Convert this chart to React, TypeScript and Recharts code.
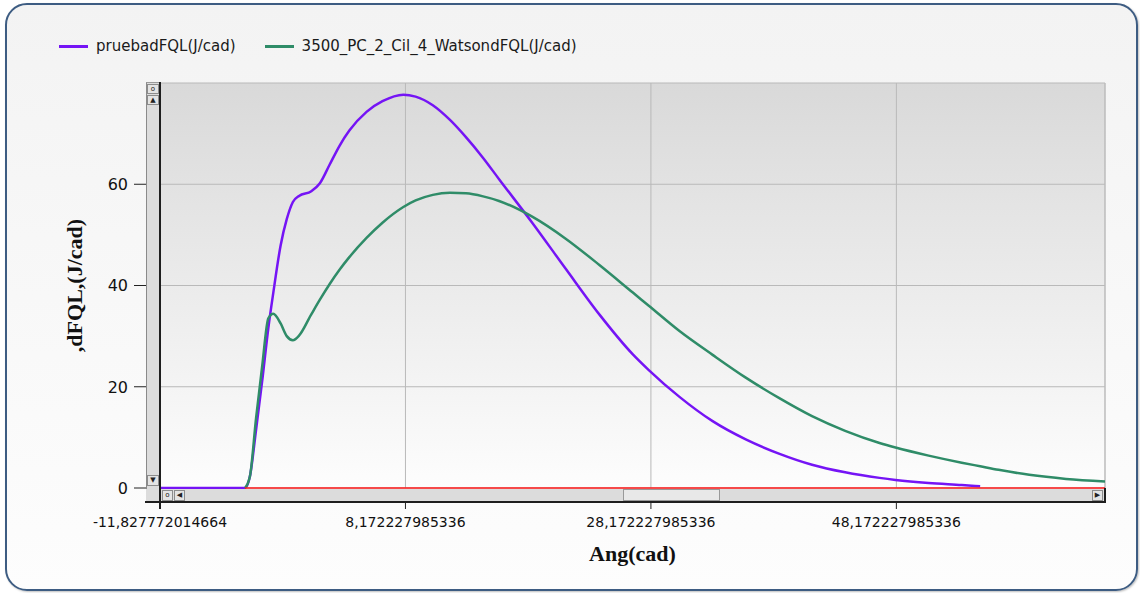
import { LineChart, Line, XAxis, YAxis, CartesianGrid, Legend, ReferenceLine, Label } from 'recharts';

// angulo (cad) compartido por las curvas
const angles = [
  -11.827772014664, -4.9, -4.5, -4.0, -3.5, -3.0, -2.6, -2.0, -1.5, -1.0, -0.5, 0.5, 1.2, 2.0,
  2.8, 3.6, 5.0, 6.3, 8.0, 9.0, 10.4, 11.8, 13.1, 14.5, 15.8, 18.5, 21.2, 24.0, 26.7, 28.0,
  30.5, 33.2, 35.9, 38.6, 41.3, 44.0, 46.8, 48.1, 50.8, 53.5, 55.0, 56.5, 59.0, 62.0,
  65.172227985336,
];

const prueba = [
  0, 0, 2.3, 11.5, 21.2, 31.6, 38.5, 47.9, 53.1, 56.5, 57.7, 58.6, 60.2, 63.9,
  67.6, 70.6, 74.3, 76.4, 77.7, 77.3, 75.6, 72.7, 69.3, 65.2, 61.0, 52.4, 43.4, 34.2, 26.4, 23.3,
  18.0, 13.2, 9.6, 6.8, 4.6, 3.1, 2.0, 1.6, 1.0, 0.6, 0.35, null, null, null,
  null,
];

const watson = [
  null, 0, 2.3, 13.8, 24.1, 33.5, 34.4, 32.5, 30.0, 29.2, 30.1, 34.3, 37.2, 40.3,
  43.1, 45.6, 49.4, 52.4, 55.5, 56.8, 57.9, 58.3, 58.2, 57.6, 56.7, 53.6, 49.3, 44.0, 38.6, 36.0,
  31.0, 26.3, 21.8, 17.8, 14.2, 11.3, 8.9, 8.0, 6.4, 5.0, 4.3, 3.6, 2.6, 1.8,
  1.3,
];

const cero = [
  null, 0, 0, 0, 0, 0, 0, 0, 0, 0, 0, 0, 0, 0,
  0, 0, 0, 0, 0, 0, 0, 0, 0, 0, 0, 0, 0, 0, 0, 0,
  0, 0, 0, 0, 0, 0, 0, 0, 0, 0, 0, 0, 0, 0,
  0,
];

const series = [
  { key: 'prueba', name: 'pruebadFQL(J/cad)', color: '#7514f5' },
  { key: 'watson', name: '3500_PC_2_Cil_4_WatsondFQL(J/cad)', color: '#2f8c68' },
];

const xTicks = [-11.827772014664, 8.172227985336, 28.172227985336, 48.172227985336];
const yTicks = [0, 20, 40, 60, 80];
const X_MIN = -11.827772014664;
const X_MAX = 65.172227985336;

const data = angles.map((a, i) => ({ ang: a, prueba: prueba[i], watson: watson[i], cero: cero[i] }));

const fmtX = (v: number) => v.toFixed(12).replace('.', ',');

function XTick({ x, y, payload }: any) {
  return (
    <g>
      <line x1={x} x2={x} y1={y + 14} y2={y + 21} stroke="#222" />
      <text x={x} y={y + 39} textAnchor="middle" fontFamily="DejaVu Sans" fontSize={14} fill="#111">
        {fmtX(payload.value)}
      </text>
    </g>
  );
}

function YTick({ x, y, payload }: any) {
  if (payload.value === 80) return <g />;
  return (
    <g>
      <line x1={x - 26} x2={x - 13} y1={y} y2={y} stroke="#222" />
      <text x={x - 32} y={y} dy="0.36em" textAnchor="end" fontFamily="DejaVu Sans" fontSize={16} fill="#111">
        {payload.value}
      </text>
    </g>
  );
}

const renderLegend = () => (
  <div style={{ display: 'flex', alignItems: 'center', fontFamily: 'DejaVu Sans', fontSize: 15, color: '#1a1a1a', whiteSpace: 'nowrap' }}>
    {series.map((s) => (
      <div key={s.key} style={{ display: 'flex', alignItems: 'center', marginRight: 29 }}>
        <span style={{ display: 'inline-block', width: 29, height: 3, background: s.color, marginRight: 8 }} />
        <span>{s.name}</span>
      </div>
    ))}
  </div>
);

const btn: React.CSSProperties = {
  position: 'absolute',
  boxSizing: 'border-box',
  border: '1px solid #8c8c8c',
  background: '#e4e4e4',
  fontFamily: 'DejaVu Sans',
  fontSize: 7,
  lineHeight: '9px',
  textAlign: 'center',
  color: '#222',
};

export default function App() {
  return (
    <div style={{ position: 'absolute', left: 0, top: 0, width: 1140, height: 593, background: '#fff', overflow: 'hidden' }}>
      <div
        style={{
          position: 'absolute', left: 5, top: 3, width: 1133, height: 588, boxSizing: 'border-box',
          border: '2px solid #3d5c82', borderRadius: 22, background: 'linear-gradient(#f3f3f3, #fdfdfd)',
          boxShadow: '1px 1px 2px rgba(0,0,0,0.25)',
        }}
      />
      <div style={{ position: 'absolute', left: 0, top: 0 }}>
        <LineChart width={1140} height={593} data={data} margin={{ top: 83, right: 35, bottom: 0, left: 0 }}>
          <defs>
            <linearGradient id="plotBg" x1="0" y1="0" x2="0" y2="1">
              <stop offset="0%" stopColor="#d9d9d9" />
              <stop offset="100%" stopColor="#fdfdfd" />
            </linearGradient>
          </defs>
          <CartesianGrid stroke="#b9b9b9" fill="url(#plotBg)" fillOpacity={1} />
          <XAxis
            dataKey="ang"
            type="number"
            domain={[X_MIN, X_MAX]}
            ticks={xTicks}
            height={105}
            axisLine={false}
            tickLine={false}
            tickSize={0}
            tickMargin={0}
            tick={<XTick />}
            interval={0}
          >
            <Label
              content={(props: any) => {
                const vb = props.viewBox;
                return (
                  <text x={vb.x + vb.width / 2} y={vb.y + 73} textAnchor="middle" fontFamily="Liberation Serif" fontWeight="bold" fontSize={22} fill="#111">
                    Ang(cad)
                  </text>
                );
              }}
            />
          </XAxis>
          <YAxis
            type="number"
            domain={[0, 80]}
            ticks={yTicks}
            width={160}
            axisLine={false}
            tickLine={false}
            tickSize={0}
            tickMargin={0}
            tick={<YTick />}
            interval={0}
          >
            <Label
              content={(props: any) => {
                const vb = props.viewBox;
                const cx = vb.x + 74;
                const cy = vb.y + vb.height / 2;
                return (
                  <text x={cx} y={cy} transform={`rotate(-90 ${cx} ${cy})`} textAnchor="middle" dominantBaseline="central" fontFamily="Liberation Serif" fontWeight="bold" fontSize={22} fill="#111">
                    ,dFQL,(J/cad)
                  </text>
                );
              }}
            />
          </YAxis>
          <ReferenceLine x={X_MAX} stroke="#bdbdbd" />
          <Legend layout="vertical" align="center" verticalAlign="middle" wrapperStyle={{ top: 37, left: 59, width: 700, height: 20 }} content={renderLegend} />
          {series.map((s) => (
            <Line
              key={s.key}
              type="monotone"
              dataKey={s.key}
              name={s.name}
              stroke={s.color}
              strokeWidth={2.5}
              dot={false}
              activeDot={false}
              isAnimationActive={false}
            />
          ))}
          <Line type="linear" dataKey="cero" name="cero" legendType="none" stroke="#ff1a1a" strokeWidth={1.5} dot={false} activeDot={false} isAnimationActive={false} />
        </LineChart>
      </div>

      {/* barras de desplazamiento */}
      <div style={{ position: 'absolute', left: 146, top: 82, width: 14, height: 420, background: '#dcdcdc', borderLeft: '1px solid #8a8a8a', borderTop: '1px solid #9a9a9a', boxSizing: 'border-box' }} />
      <div style={{ position: 'absolute', left: 146, top: 489, width: 959, height: 13, background: '#dcdcdc' }} />
      <div style={{ position: 'absolute', left: 159, top: 82, width: 2, height: 427, background: '#1e1e1e' }} />
      <div style={{ position: 'absolute', left: 145, top: 501, width: 961, height: 2, background: '#1e1e1e' }} />
      <div style={{ position: 'absolute', left: 1104, top: 488, width: 2, height: 14, background: '#1e1e1e' }} />
      <div style={{ ...btn, left: 147, top: 84, width: 12, height: 10 }}>o</div>
      <div style={{ ...btn, left: 147, top: 95, width: 12, height: 10 }}>▲</div>
      <div style={{ ...btn, left: 147, top: 475, width: 12, height: 11 }}>▼</div>
      <div style={{ ...btn, left: 162, top: 490, width: 11, height: 11 }}>o</div>
      <div style={{ ...btn, left: 174, top: 490, width: 11, height: 11 }}>◀</div>
      <div style={{ ...btn, left: 623, top: 489, width: 97, height: 12, background: '#e8e8e8', borderColor: '#999' }} />
      <div style={{ ...btn, left: 1092, top: 490, width: 11, height: 11 }}>▶</div>
    </div>
  );
}
